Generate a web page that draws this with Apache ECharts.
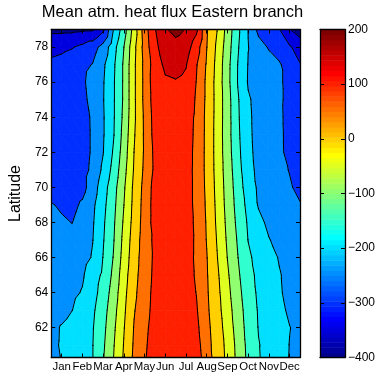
<!DOCTYPE html>
<html><head><meta charset="utf-8">
<script src="https://cdn.jsdelivr.net/npm/echarts@6/dist/echarts.min.js"></script>
<style>html,body{margin:0;padding:0;background:#fff}#c{width:379px;height:375px}</style>
</head><body><div id="c"></div>
<script>
// ---- tick labels / axes ----
const monthNames = ['Jan','Feb','Mar','Apr','May','Jun','Jul','Aug','Sep','Oct','Nov','Dec'];
const monthTicks = [1,2,3,4,5,6,7,8,9,10,11,12];
const latTicks = [62,64,66,68,70,72,74,76,78];
const colorbarTicks = [-400,-300,-200,-100,0,100,200];
const levels = [-400,-350,-300,-250,-200,-150,-100,-50,0,50,100,150,200];

// ---- data grid: columns = month positions, rows = latitudes ----
const months = [0.5,1,1.5,2,2.5,3,3.5,4,4.5,5,5.5,6,6.5,7,7.5,8,8.5,9,9.5,10,10.5,11,11.5,12,12.5];
const lats = [79,78,77,76,75,74,73,72,71,70,69,68,67,66,65,64,63,62,61,60.3];

const flux79 = [-362,-362,-361,-358,-356,-310,-200,-124,-27,76,148,195,215,197,160,55,1,-69,-139,-201,-265,-280,-298,-348,-375];
const flux78 = [-315,-310,-303,-290,-270,-233,-170,-101,-12,69,140,170,182,172,125,51,-9,-76,-145,-199,-228,-255,-275,-295,-320];
const flux77 = [-290,-285,-275,-262,-248,-209,-159,-93,-8,63,125,160,165,153,104,45,-15,-83,-151,-202,-215,-229,-244,-275,-298];
const flux76 = [-288,-283,-272,-258,-232,-204,-156,-93,-8,62,130,143,147,140,99,40,-18,-84,-152,-204,-215,-229,-244,-262,-275];
const flux75 = [-290,-286,-278,-262,-236,-203,-156,-93,-8,62,125,138,142,135,94,40,-17,-79,-145,-195,-214,-229,-244,-260,-272];
const flux74 = [-290,-287,-282,-268,-243,-205,-156,-89,-8,58,120,135,140,125,91,38,-17,-79,-143,-193,-213,-228,-243,-262,-272];
const flux73 = [-290,-287,-282,-268,-244,-205,-154,-83,-4,57,118,132,138,124,89,38,-18,-80,-140,-192,-213,-227,-242,-262,-272];
const flux72 = [-290,-288,-283,-268,-244,-202,-145,-76,1,56,112,128,134,122,87,38,-18,-78,-136,-190,-212,-227,-241,-262,-275];
const flux71 = [-288,-285,-280,-266,-240,-190,-134,-67,5,59,110,126,132,120,87,38,-17,-74,-130,-186,-210,-224,-238,-252,-270];
const flux70 = [-275,-278,-275,-266,-225,-172,-120,-57,12,65,119,128,132,120,88,40,-14,-70,-124,-176,-207,-220,-233,-245,-262];
const flux69 = [-246,-258,-262,-243,-210,-164,-114,-51,15,68,121,129,133,121,88,43,-11,-67,-118,-165,-204,-215,-226,-238,-247];
const flux68 = [-230,-242,-251,-232,-205,-158,-108,-44,19,70,120,128,132,121,91,46,-8,-62,-112,-156,-187,-210,-222,-232,-240];
const flux67 = [-222,-228,-232,-222,-201,-154,-104,-37,25,72,112,124,128,120,93,48,-3,-57,-105,-151,-174,-198,-212,-222,-230];
const flux66 = [-220,-224,-226,-218,-196,-149,-98,-31,30,73,109,120,125,118,93,52,2,-51,-99,-142,-165,-184,-203,-215,-224];
const flux65 = [-218,-220,-218,-206,-172,-142,-89,-22,35,75,111,122,126,118,95,54,9,-43,-92,-134,-161,-179,-197,-212,-220];
const flux64 = [-215,-213,-210,-197,-167,-131,-78,-15,40,79,114,124,128,120,99,56,14,-36,-85,-127,-158,-176,-195,-212,-220];
const flux63 = [-225,-218,-201,-180,-158,-121,-68,-9,47,82,116,125,128,120,105,59,18,-28,-78,-121,-154,-172,-189,-207,-218];
const flux62 = [-215,-196,-182,-167,-153,-114,-60,-3,53,88,120,127,130,122,112,64,23,-20,-73,-117,-152,-167,-183,-199,-210];
const flux61 = [-212,-195,-180,-166,-151,-108,-54,2,57,92,124,130,132,126,121,68,27,-13,-66,-113,-148,-163,-180,-201,-212];
const flux60 = [-220,-198,-183,-166,-151,-104,-51,5,60,95,126,130,132,129,127,72,28,-11,-64,-111,-147,-166,-184,-202,-212];

const fluxRows = [flux79,flux78,flux77,flux76,flux75,flux74,flux73,flux72,flux71,flux70,
  flux69,flux68,flux67,flux66,flux65,flux64,flux63,flux62,flux61,flux60];

// ---- MATLAB jet(64) colormap ----
function jet64(i){
  const r = i<=24?0 : i<=40?(i-24)/16 : i<=55?1 : (72-i)/16;
  const g = i<=8?0 : i<=24?(i-8)/16 : i<=39?1 : i<=55?(56-i)/16 : 0;
  const b = i<=8?(i+8)/16 : i<=23?1 : i<=39?(40-i)/16 : 0;
  return 'rgb(' + Math.round(r*255) + ',' + Math.round(g*255) + ',' + Math.round(b*255) + ')';
}
const CMIN = -400, CMAX = 200;
function levelColor(L){
  const idx = Math.min(64, Math.max(1, Math.floor((L-CMIN)/(CMAX-CMIN)*64)+1));
  return jet64(idx);
}
const bandColors = levels.map(levelColor);
const NB = levels.length;

// ---- contour helpers ----
function interp(P,Q,L){ const t=(L-P.v)/(Q.v-P.v); return {x:P.x+t*(Q.x-P.x), y:P.y+t*(Q.y-P.y), v:L}; }
function clipPoly(poly,L,above){
  const out=[], n=poly.length;
  for(let k=0;k<n;k++){
    const P=poly[(k+n-1)%n], Q=poly[k];
    const pin = above ? P.v>=L : P.v<=L;
    const qin = above ? Q.v>=L : Q.v<=L;
    if(qin){ if(!pin) out.push(interp(P,Q,L)); out.push(Q); }
    else if(pin){ out.push(interp(P,Q,L)); }
  }
  return out;
}
function bandIndex(v){ return Math.max(0, Math.min(NB-1, Math.floor((v-levels[0])/50))); }
function cellTris(api,i,j){
  const c = [[i,j],[i+1,j],[i+1,j+1],[i,j+1]].map(function(ab){
    const p = api.coord([months[ab[0]], lats[ab[1]]]);
    return {x:p[0], y:p[1], v:fluxRows[ab[1]][ab[0]]};
  });
  return [[c[0],c[1],c[2]],[c[0],c[2],c[3]]];
}
const cells = [];
for(let j=0;j<lats.length-1;j++) for(let i=0;i<months.length-1;i++) cells.push([i,j]);

function renderFill(params, api){
  const i=api.value(0), j=api.value(1);
  const children=[];
  cellTris(api,i,j).forEach(function(tri){
    const vs = tri.map(p=>p.v);
    const k0 = bandIndex(Math.min.apply(null,vs)), k1 = bandIndex(Math.max.apply(null,vs));
    for(let k=k0;k<=k1;k++){
      let poly = tri;
      if(k>0) poly = clipPoly(poly, levels[k], true);
      if(poly.length>=3 && k<NB-1) poly = clipPoly(poly, levels[k+1], false);
      if(poly.length>=3){
        children.push({type:'polygon', shape:{points:poly.map(p=>[p.x,p.y])},
          style:{fill:bandColors[k], stroke:bandColors[k], lineWidth:0.8}});
      }
    }
  });
  return {type:'group', children:children};
}
function renderLines(params, api){
  const i=api.value(0), j=api.value(1);
  const children=[];
  cellTris(api,i,j).forEach(function(tri){
    levels.forEach(function(L){
      const pts=[];
      for(let e=0;e<3;e++){
        const a=tri[e], b=tri[(e+1)%3];
        if((a.v>=L)!==(b.v>=L)) pts.push(interp(a,b,L));
      }
      if(pts.length===2){
        children.push({type:'line', shape:{x1:pts[0].x,y1:pts[0].y,x2:pts[1].x,y2:pts[1].y},
          style:{stroke:'#000', lineWidth:1, lineCap:'round'}});
      }
    });
  });
  return {type:'group', children:children};
}

// colorbar steps (colormap legend)
const cbSteps = [];
for(let k=1;k<=64;k++) cbSteps.push([k]);
function renderColorbar(params, api){
  const k = api.value(0);
  const v0 = CMIN + (k-1)*(CMAX-CMIN)/64, v1 = CMIN + k*(CMAX-CMIN)/64;
  const p0 = api.coord([0, v0]), p1 = api.coord([1, v1]);
  return {type:'rect', shape:{x:p0[0], y:p1[1], width:p1[0]-p0[0], height:p0[1]-p1[1]+0.6},
    style:{fill:jet64(k)}};
}

const FONT = 'Liberation Sans';
const lab = {fontFamily:FONT, fontSize:12, color:'#000'};
const line = {show:true, onZero:false, lineStyle:{color:'#000', width:1.3}};
const minus = v => v<0 ? '\u2212'+(-v) : String(v);

const chart = echarts.init(document.getElementById('c'));
chart.setOption({
  animation:false,
  backgroundColor:'#fff',
  grid:[
    {left:45, top:29.5, width:255, height:328},
    {left:320, top:29.5, width:25, height:328}
  ],
  graphic:[{type:'text', x:172.5, y:12.5, style:{text:'Mean atm. heat flux Eastern branch',
    font:'16.5px "Liberation Sans"', fill:'#000', align:'center', verticalAlign:'middle'}}],
  xAxis:[
    {gridIndex:0, type:'value', min:0.5, max:12.5, position:'bottom', z:10, axisLine:line,
      splitLine:{show:false},
      axisTick:{show:true, inside:true, length:4, customValues:monthTicks, lineStyle:{color:'#000'}},
      axisLabel:{show:true, margin:4, customValues:monthTicks, hideOverlap:false,
        fontFamily:FONT, fontSize:11.4, color:'#000',
        formatter:v=>monthNames[Math.round(v)-1]}},
    {gridIndex:0, type:'value', min:0.5, max:12.5, position:'top', z:10, axisLine:line,
      splitLine:{show:false},
      axisTick:{show:true, inside:true, length:4, customValues:monthTicks, lineStyle:{color:'#000'}},
      axisLabel:{show:false}},
    {gridIndex:1, type:'value', min:0, max:1, position:'bottom', z:10, axisLine:line,
      splitLine:{show:false}, axisTick:{show:false}, axisLabel:{show:false}},
    {gridIndex:1, type:'value', min:0, max:1, position:'top', z:10, axisLine:line,
      splitLine:{show:false}, axisTick:{show:false}, axisLabel:{show:false}}
  ],
  yAxis:[
    {gridIndex:0, type:'value', min:60.3, max:79, position:'left', z:10, axisLine:line,
      splitLine:{show:false},
      name:'Latitude', nameLocation:'middle', nameGap:22, nameRotate:90,
      nameTextStyle:{fontFamily:FONT, fontSize:16, color:'#000'},
      axisTick:{show:true, inside:true, length:4, customValues:latTicks, lineStyle:{color:'#000'}},
      axisLabel:Object.assign({show:true, margin:3, customValues:latTicks}, lab)},
    {gridIndex:0, type:'value', min:60.3, max:79, position:'right', z:10, axisLine:line,
      splitLine:{show:false},
      axisTick:{show:true, inside:true, length:4, customValues:latTicks, lineStyle:{color:'#000'}},
      axisLabel:{show:false}},
    {gridIndex:1, type:'value', min:-400, max:200, interval:100, position:'right', z:10, axisLine:line,
      splitLine:{show:false},
      axisTick:{show:true, inside:true, length:4, lineStyle:{color:'#000'}},
      axisLabel:Object.assign({show:true, margin:3, showMinLabel:true, showMaxLabel:true, formatter:minus}, lab)},
    {gridIndex:1, type:'value', min:-400, max:200, interval:100, position:'left', z:10, axisLine:line,
      splitLine:{show:false},
      axisTick:{show:true, inside:true, length:4, lineStyle:{color:'#000'}},
      axisLabel:{show:false}}
  ],
  series:[
    {type:'custom', name:'fill', xAxisIndex:0, yAxisIndex:0, data:cells, clip:true, silent:true,
      renderItem:renderFill, z:2},
    {type:'custom', name:'contours', xAxisIndex:0, yAxisIndex:0, data:cells, clip:true, silent:true,
      renderItem:renderLines, z:3},
    {type:'custom', name:'colorbar', xAxisIndex:2, yAxisIndex:2, data:cbSteps, clip:true, silent:true,
      renderItem:renderColorbar, z:2}
  ]
});
</script>
</body></html>
